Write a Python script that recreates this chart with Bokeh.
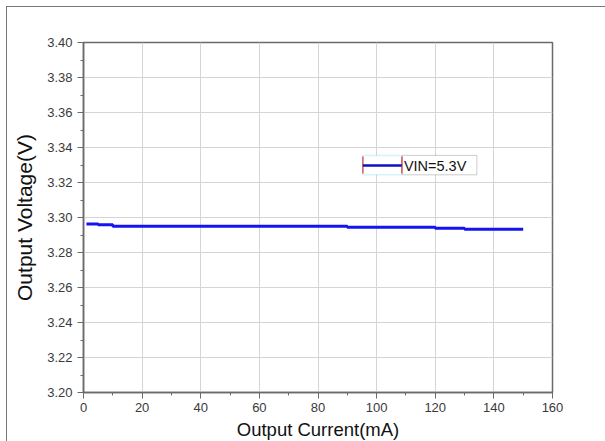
from bokeh.plotting import figure
from bokeh.models import (BoxAnnotation, Label, SingleIntervalTicker, PrintfTickFormatter,
                          Range1d, ColumnDataSource)
from bokeh.embed import file_html
from bokeh.resources import INLINE

# Output voltage vs. load current, VIN = 5.3 V (step levels between load points)
current_ma = [1, 5, 10, 90, 120, 130, 150]
voltage_v = [3.2963, 3.2958, 3.2950, 3.2945, 3.2939, 3.2933, 3.2933]
series_name = "VIN=5.3V"

FONT = "Liberation Sans"
EDGE = "#6a6a6a"

# the page has a thin frame on its top and left; the plot sits inside it
p = figure(width=598, height=434, output_backend="svg", toolbar_location=None,
           x_range=Range1d(0, 160), y_range=Range1d(3.20, 3.40),
           frame_width=469, frame_height=350,
           min_border_left=76, min_border_top=35, min_border_right=53, min_border_bottom=49)
p.styles = {"margin-left": "6px", "margin-top": "6px",
            "border-left": "1.5px solid #777777", "border-top": "1.5px solid #777777"}
p.background_fill_color = "white"
p.border_fill_color = "white"
p.outline_line_color = EDGE
p.outline_line_width = 1.5

src = ColumnDataSource(dict(x=current_ma, y=voltage_v))
p.step("x", "y", source=src, mode="after", line_color="#1414f0", line_width=3)

# axes
p.xaxis.ticker = SingleIntervalTicker(interval=20, num_minor_ticks=2)
p.yaxis.ticker = SingleIntervalTicker(interval=0.02, num_minor_ticks=2)
p.yaxis.formatter = PrintfTickFormatter(format="%.2f")
for ax in (p.xaxis[0], p.yaxis[0]):
    ax.axis_line_color = EDGE
    ax.axis_line_width = 1.5
    ax.major_tick_line_color = EDGE
    ax.minor_tick_line_color = EDGE
    ax.major_tick_in = 0
    ax.major_tick_out = 6
    ax.minor_tick_in = 0
    ax.minor_tick_out = 3
    ax.major_label_text_font = FONT
    ax.major_label_text_font_size = "13px"
    ax.major_label_text_color = "#3a3a3a"
    ax.axis_label_text_font = FONT
    ax.axis_label_text_font_style = "normal"
    ax.axis_label_text_color = "#111111"
p.xaxis.axis_label = "Output Current(mA)"
p.yaxis.axis_label = "Output Voltage(V)"
p.xaxis.axis_label_text_font_size = "18.5px"
p.yaxis.axis_label_text_font_size = "21px"
p.xaxis.major_label_standoff = 4
p.yaxis.major_label_standoff = 5
p.xaxis.axis_label_standoff = 4
p.yaxis.axis_label_standoff = 8

p.grid.grid_line_color = "#d4d4d4"
p.grid.grid_line_width = 1

# legend, drawn by hand: swatch box + label box (kept under the swatch line)
sw_left, sw_right, lab_right = 95.3, 108.6, 134.2
lg_top, lg_bottom, lg_mid = 3.3355, 3.3244, 3.3297
p.add_layout(BoxAnnotation(left=sw_left, right=sw_right, top=lg_top, bottom=lg_bottom,
                           fill_color="white", fill_alpha=1, line_color="#70dcec",
                           line_width=1.5, level="underlay"))
p.add_layout(BoxAnnotation(left=sw_right + 0.2, right=lab_right, top=lg_top, bottom=lg_bottom,
                           fill_color="white", fill_alpha=1, line_color="#555555",
                           line_width=1, level="underlay"))
p.segment(x0=[sw_left, sw_right], x1=[sw_left, sw_right],
          y0=[lg_bottom + 0.0007, lg_bottom + 0.0007],
          y1=[lg_top - 0.0007, lg_top - 0.0007],
          line_color="#d06060", line_width=1.5)
p.segment(x0=[sw_left], x1=[sw_right], y0=[lg_mid], y1=[lg_mid],
          line_color="#1010c0", line_width=2.5)
p.add_layout(Label(x=sw_right + 0.7, y=lg_mid, text=series_name, text_font=FONT,
                   text_font_size="14.5px", text_baseline="middle", text_color="#111111"))

open("out.html", "w").write(file_html(p, INLINE))
